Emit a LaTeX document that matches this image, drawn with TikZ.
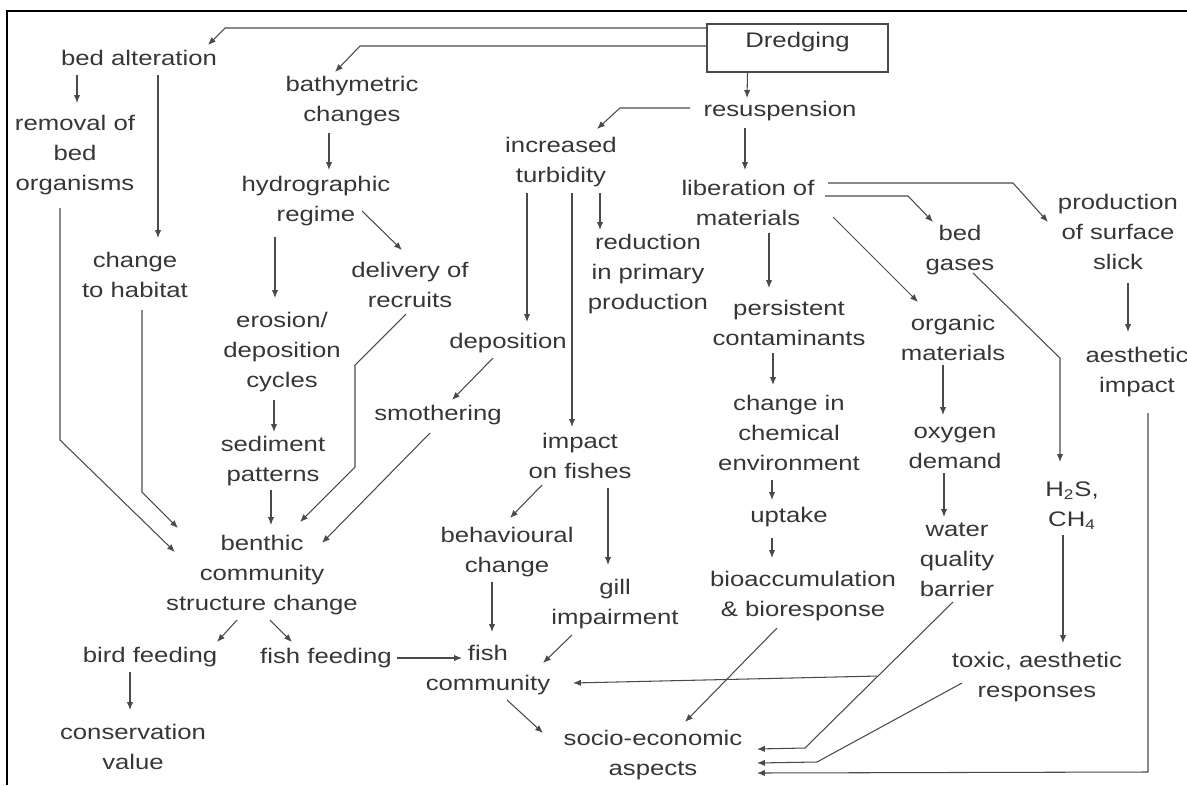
\documentclass[tikz,border=0pt]{standalone}
\usepackage{fontspec}
\setmainfont{Liberation Sans}[FakeStretch=1.22]
\usetikzlibrary{arrows.meta,calc}
\definecolor{ink}{HTML}{363636}
\definecolor{wire}{HTML}{4A4A4A}
\begin{document}
\begin{tikzpicture}[
  x=0.02cm, y=-0.02cm,
  txt/.style={
    align=center, inner sep=3pt, text=ink,
    font=\fontsize{12}{17.07}\selectfont
  },
  boxed/.style={
    draw=wire, line width=0.7pt, inner sep=0pt, text=ink,
    minimum width=3.62cm, text height=0.46cm, text depth=0.5cm,
    font=\fontsize{12}{17.07}\selectfont
  },
  arr/.style={-{Latex[length=4.5pt,width=3.6pt]}, draw=wire, line width=0.6pt},
  frame/.style={line width=1.6pt, draw=black},
]
\useasboundingbox (0,0) rectangle (1187,785);
\draw[frame] (7,785) -- (7,11) -- (1187,11);

\node[boxed] (dredge)    at (797.5,48) {Dredging};
\node[txt]   (bedalt)    at (139,58)   {bed alteration};
\node[txt]   (removal)   at (75,155)   {removal of\\bed\\organisms};
\node[txt]   (habitat)   at (135,275)  {change\\to habitat};
\node[txt]   (bathy)     at (352,101)  {bathymetric\\changes};
\node[txt]   (hydro)     at (316,201)  {hydrographic\\regime};
\node[txt]   (recruit)   at (410,285)  {delivery of\\recruits};
\node[txt]   (erosion)   at (282,352)  {erosion/\\deposition\\cycles};
\node[txt]   (sediment)  at (273,461)  {sediment\\patterns};
\node[txt]   (benthic)   at (262,575)  {benthic\\community\\structure change};
\node[txt]   (bird)      at (150,657)  {bird feeding};
\node[txt]   (fishfeed)  at (326,658)  {fish feeding};
\node[txt]   (conserv)   at (133,747)  {conservation\\value};
\node[txt]   (resusp)    at (780,111)  {resuspension};
\node[txt]   (turbid)    at (561,162)  {increased\\turbidity};
\node[txt]   (liberat)   at (748,203)  {liberation of\\materials};
\node[txt]   (reduct)    at (648,274)  {reduction\\in primary\\production};
\node[txt]   (depos)     at (508,343)  {deposition};
\node[txt]   (smother)   at (438,415)  {smothering};
\node[txt]   (impact)    at (580,456)  {impact\\on fishes};
\node[txt]   (behav)     at (507,552)  {behavioural\\change};
\node[txt]   (gill)      at (615,604)  {gill\\impairment};
\node[txt]   (fishcom)   at (488,670)  {fish\\community};
\node[txt]   (socio)     at (653,755)  {socio-economic\\aspects};
\node[txt]   (persist)   at (789,323)  {persistent\\contaminants};
\node[txt]   (chem)      at (789,433)  {change in\\chemical\\environment};
\node[txt]   (uptake)    at (789,517)  {uptake};
\node[txt]   (bioacc)    at (803,596)  {bioaccumulation\\\& bioresponse};
\node[txt]   (organic)   at (953,338)  {organic\\materials};
\node[txt]   (oxygen)    at (955,448)  {oxygen\\demand};
\node[txt]   (water)     at (957,560)  {water\\quality\\barrier};
\node[txt]   (bedgas)    at (960,250)  {bed\\gases};
\node[txt]   (slick)     at (1118,232) {production\\of surface\\slick};
\node[txt]   (aesth)     at (1137,372) {aesthetic\\impact};
\node[txt]   (hsulf)     at (1072,506) {H\textsubscript{2}S,\\CH\textsubscript{4}};
\node[txt]   (toxic)     at (1037,677) {toxic, aesthetic\\responses};

\draw[arr] ($(dredge.west)+(0,-20)$) -- (225,28) -- ($(bedalt)+(69,-13)$);
\draw[arr] ($(dredge.west)+(0,-2)$) -- (360,46) -- ($(bathy)+(-17,-29)$);
\draw[arr] ($(bedalt)+(-62,17)$) -- ($(removal)+(2,-52)$);
\draw[arr] ($(bedalt)+(19,17)$) -- ($(habitat)+(23,-37)$);
\draw[arr] ($(removal)+(-15,53)$) -- (60,440) -- ($(benthic)+(-87,-23)$);
\draw[arr] ($(habitat)+(7,35)$) -- (142,492) -- ($(benthic)+(-84,-47)$);
\draw[arr] ($(bathy)+(-23,32)$) -- ($(hydro)+(13,-31)$);
\draw[arr] ($(hydro)+(46,10)$) -- ($(recruit)+(-8,-35)$);
\draw[arr] ($(hydro)+(-41,36)$) -- ($(erosion)+(-7,-54)$);
\draw[arr] ($(erosion)+(-8,48)$) -- ($(sediment)+(1,-29)$);
\draw[arr] ($(sediment)+(-2,29)$) -- ($(benthic)+(9,-50)$);
\draw[arr] ($(recruit)+(-4,29)$) -- (355,365) -- (355,467) -- ($(benthic)+(38,-53)$);
\draw[arr] ($(dredge)+(-50,24)$) -- ($(resusp)+(-33,-13)$);
\draw[arr] ($(resusp)+(-90,-3)$) -- (620,108) -- ($(turbid)+(36,-33)$);
\draw[arr] ($(resusp)+(-35,17)$) -- ($(liberat)+(-3,-33)$);
\draw[arr] ($(turbid)+(-34,31)$) -- ($(depos)+(19,-21)$);
\draw[arr] ($(turbid)+(11,31)$) -- ($(impact)+(-8,-29)$);
\draw[arr] ($(turbid)+(39,31)$) -- ($(reduct)+(-48,-44)$);
\draw[arr] ($(depos)+(-15,15)$) -- ($(smother)+(14,-15)$);
\draw[arr] ($(smother)+(-8,18)$) -- ($(benthic)+(60,-32)$);
\draw[arr] ($(impact)+(-38,29)$) -- ($(behav)+(3,-34)$);
\draw[arr] ($(impact)+(28,32)$) -- ($(gill)+(-7,-39)$);
\draw[arr] ($(behav)+(-15,30)$) -- ($(fishcom)+(4,-38)$);
\draw[arr] ($(gill)+(-43,31)$) -- ($(fishcom)+(55,-7)$);
\draw[arr] (fishfeed.east) -- ($(fishcom)+(-26,-12)$);
\draw[arr] ($(benthic)+(-25,45)$) -- ($(bird)+(67,-15)$);
\draw[arr] ($(benthic)+(8,45)$) -- ($(fishfeed)+(-34,-16)$);
\draw[arr] ($(bird)+(-20,15)$) -- ($(conserv)+(-3,-37)$);
\draw[arr] ($(fishcom)+(19,30)$) -- ($(socio)+(-110,-22)$);
\draw[arr] ($(liberat)+(21,30)$) -- ($(persist)+(-20,-35)$);
\draw[arr] ($(persist)+(-16,30)$) -- ($(chem)+(-16,-48)$);
\draw[arr] ($(chem)+(-17,47)$) -- ($(uptake)+(-17,-17)$);
\draw[arr] ($(uptake)+(-17,21)$) -- ($(bioacc)+(-31,-38)$);
\draw[arr] ($(bioacc)+(-26,32)$) -- ($(socio)+(32,-33)$);
\draw[arr] ($(liberat)+(85,14)$) -- ($(organic)+(-35,-36)$);
\draw[arr] ($(liberat)+(77,-7)$) -- (908,196) -- ($(bedgas)+(-27,-28)$);
\draw[arr] ($(liberat)+(80,-20)$) -- (1013,183) -- ($(slick)+(-70,-10)$);
\draw[arr] ($(bedgas)+(13,23)$) -- (1060,358) -- ($(hsulf)+(-12,-44)$);
\draw[arr] ($(hsulf)+(-9,29)$) -- ($(toxic)+(26,-34)$);
\draw[arr] ($(slick)+(10,51)$) -- ($(aesth)+(-9,-40)$);
\draw[arr] ($(organic)+(-10,27)$) -- ($(oxygen)+(-12,-33)$);
\draw[arr] ($(oxygen)+(-11,25)$) -- ($(water)+(-13,-43)$);
\draw[arr] ($(water)+(-4,42)$) -- coordinate[pos=0.507] (wqsplit) (805,748) -- ($(socio)+(104,-6)$);
\draw[arr] (wqsplit) -- ($(fishcom)+(85,13)$);
\draw[arr] ($(toxic)+(-75,6)$) -- (817,762) -- ($(socio)+(104,8)$);
\draw[arr] ($(aesth)+(11,41)$) -- (1148,772) -- ($(socio)+(104,18)$);
\end{tikzpicture}
\end{document}
